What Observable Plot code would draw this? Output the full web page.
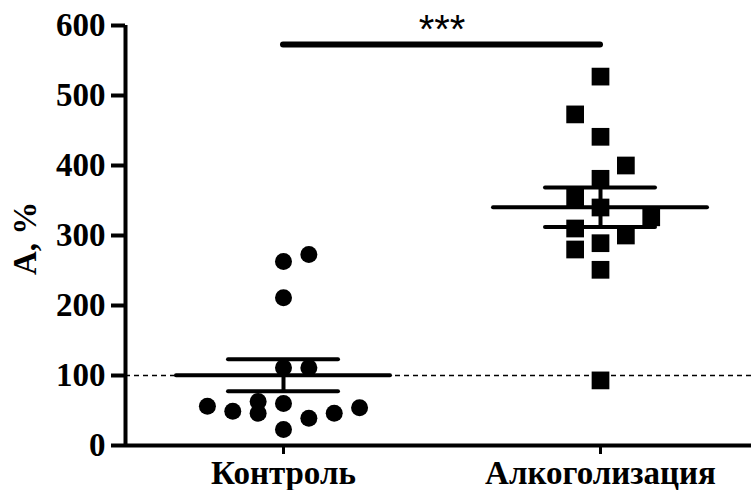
<!DOCTYPE html>
<html><head><meta charset="utf-8">
<script src="https://cdn.jsdelivr.net/npm/d3@7"></script>
<script src="https://cdn.jsdelivr.net/npm/@observablehq/plot@0.6"></script>
<style>body{margin:0;background:#fff}</style>
</head><body><div id="chart"></div>
<script>
const groups = ["Контроль", "Алкоголизация"];
const controlValues = [263, 273, 211, 111, 111, 56, 49, 63, 46, 60, 39, 46, 54, 23];
const controlSlots  = [0, 1, 0, 0, 1, -3, -2, -1, -1, 0, 1, 2, 3, 0];
const alcoValues = [527, 473, 441, 400, 381, 354, 340, 326, 310, 300, 289, 280, 251, 93];
const alcoSlots  = [0, -1, 0, 1, 0, -1, 0, 2, -1, 1, 0, -1, 0, 0];
const yTicks = [0, 100, 200, 300, 400, 500, 600];
const referenceLevel = 100;
const significanceLevel = 573;
const significanceLabel = "***";
const yLabel = "A, %";

const SLOT = 0.08;
const serif = "'Liberation Serif', 'Times New Roman', serif";

const controlData = controlValues.map((v, k) => ({g: 0, x: 0 + controlSlots[k] * SLOT, y: v}));
const alcoData = alcoValues.map((v, k) => ({g: 1, x: 1 + alcoSlots[k] * SLOT, y: v}));

function stats(values, g) {
  const m = d3.mean(values);
  const sem = d3.deviation(values) / Math.sqrt(values.length);
  return {g, mean: m, lo: m - sem, hi: m + sem};
}
const summary = [stats(controlValues, 0), stats(alcoValues, 1)];
const xDomain = [-0.4984, 1.4763];

const chart = Plot.plot({
  width: 751,
  height: 490,
  marginLeft: 125,
  marginRight: 0,
  marginTop: 25,
  marginBottom: 45,
  style: {background: "white", color: "black"},
  x: {domain: xDomain, axis: null},
  y: {domain: [0, 600], axis: null},
  marks: [
    Plot.ruleY([referenceLevel], {stroke: "black", strokeWidth: 1.3, strokeDasharray: "5,4"}),
    Plot.axisY({ticks: yTicks, tickSize: 14, tickPadding: 6, strokeWidth: 4, fontSize: 33, fontWeight: "bold", fontFamily: serif, label: null}),
    Plot.axisX({ticks: [0, 1], tickFormat: i => groups[i], tickSize: 9, tickPadding: 6, strokeWidth: 3, fontSize: 33, fontWeight: "bold", fontFamily: serif, label: null}),
    Plot.ruleX([xDomain[0]], {y1: 0, y2: 600, strokeWidth: 4}),
    Plot.ruleY([0], {strokeWidth: 4}),
    Plot.ruleY(summary, {y: "mean", x1: d => d.g - 0.3375, x2: d => d.g + 0.3375, strokeWidth: 4, strokeLinecap: "round"}),
    Plot.ruleY(summary, {y: "hi", x1: d => d.g - 0.1735, x2: d => d.g + 0.1735, strokeWidth: 4, strokeLinecap: "round"}),
    Plot.ruleY(summary, {y: "lo", x1: d => d.g - 0.1735, x2: d => d.g + 0.1735, strokeWidth: 4, strokeLinecap: "round"}),
    Plot.ruleX(summary, {x: "g", y1: "lo", y2: "hi", strokeWidth: 4}),
    Plot.dot(controlData, {x: "x", y: "y", r: 8.5, fill: "black", stroke: "none", symbol: "circle"}),
    Plot.dot(alcoData, {x: "x", y: "y", r: 10, fill: "black", stroke: "none", symbol: "square"}),
    Plot.ruleY([significanceLevel], {x1: 0, x2: 1, strokeWidth: 6, strokeLinecap: "round"}),
    Plot.text([significanceLabel], {x: 0.5, y: significanceLevel, dy: -1, lineAnchor: "bottom", fontSize: 40, fontFamily: "'Liberation Sans', Arial, sans-serif"}),
    Plot.text([yLabel], {x: xDomain[0], y: 296, dx: -100, rotate: -90, fontSize: 33, fontWeight: "bold", fontFamily: serif})
  ]
});
document.getElementById("chart").appendChild(chart);
</script>
</body></html>
